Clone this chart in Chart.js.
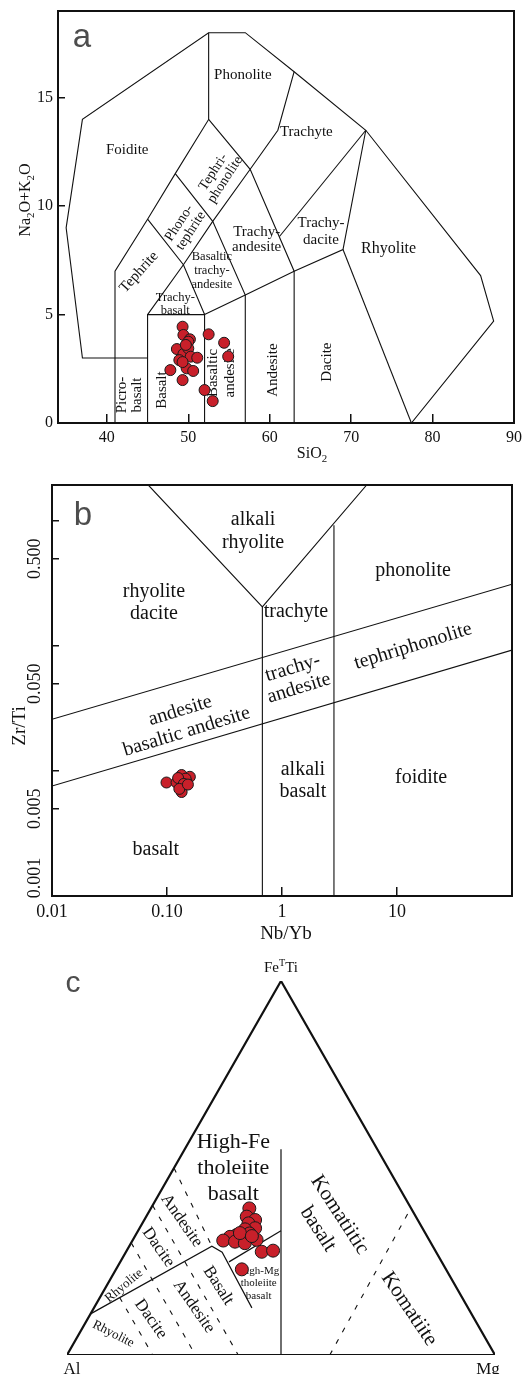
<!DOCTYPE html>
<html>
<head>
<meta charset="utf-8">
<script src="https://cdn.jsdelivr.net/npm/chart.js@4.4.1/dist/chart.umd.min.js"></script>
<style>
  html, body { margin: 0; padding: 0; background: #fff; }
  body { width: 530px; height: 1374px; position: relative; overflow: hidden; }
  .panel { position: absolute; left: 0; width: 530px; }
</style>
</head>
<body>
<div class="panel" style="top:0;height:470px"><canvas id="tas"></canvas></div>
<div class="panel" style="top:470px;height:480px"><canvas id="wf"></canvas></div>
<div class="panel" style="top:950px;height:424px"><canvas id="jensen"></canvas></div>
<script>
const SERIF = '"Liberation Serif", "Times New Roman", serif';
const SANS = '"Liberation Sans", Arial, sans-serif';
const INK = '#111';
const RED = '#c8202a';

// ---- a: total alkali vs silica ----
const tasSiO2 = [49.3, 49.4, 50.2, 50.0, 52.5, 54.4, 48.6, 49.4, 50.0, 50.3, 51.1, 54.9, 47.8, 49.8, 50.6, 49.3, 52.0, 53.0, 48.9, 49.3, 49.7];
const tasAlkali = [4.44, 4.06, 3.86, 3.75, 4.09, 3.70, 3.41, 3.18, 3.44, 3.06, 3.01, 3.07, 2.44, 2.52, 2.40, 1.98, 1.52, 1.01, 2.90, 2.81, 3.60];
const tasXTicks = [40, 50, 60, 70, 80, 90];
const tasYTicks = [0, 5, 10, 15];
const tasBounds = [
  [[45, 3], [37, 3], [35, 9], [37, 14], [52.5, 18], [57, 18], [63, 16.2], [71.8, 13.5], [85.9, 6.8], [87.5, 4.7], [77.4, 0]],
  [[41, 0], [41, 7], [45, 9.4], [48.4, 11.5], [52.5, 14], [52.5, 18]],
  [[45, 0], [45, 5], [52, 5], [52, 0]],
  [[45, 5], [49.4, 7.3], [53, 9.3], [57.6, 11.7], [61, 13.5], [63, 16.2]],
  [[45, 9.4], [49.4, 7.3], [52, 5], [57, 5.9], [63, 7], [69, 8], [71.8, 13.5]],
  [[48.4, 11.5], [53, 9.3], [57, 5.9], [57, 0]],
  [[52.5, 14], [57.6, 11.7], [63, 7], [63, 0]],
  [[69, 8], [77.4, 0]],
  [[61.2, 8.6], [71.8, 13.5]]
];
const tasNames = [
  { x: 42.5, y: 12.6, t: ['Foidite'], s: 15 },
  { x: 56.7, y: 16.05, t: ['Phonolite'], s: 15 },
  { x: 64.5, y: 13.4, t: ['Trachyte'], s: 15 },
  { x: 53.8, y: 11.4, t: ['Tephri-', 'phonolite'], s: 14, r: -57, lh: 14 },
  { x: 49.6, y: 9.04, t: ['Phono-', 'tephrite'], s: 14, r: -57, lh: 14 },
  { x: 43.95, y: 6.96, t: ['Tephrite'], s: 15, r: -48 },
  { x: 52.9, y: 7.0, t: ['Basaltic', 'trachy-', 'andesite'], s: 12.5, lh: 14 },
  { x: 48.4, y: 5.5, t: ['Trachy-', 'basalt'], s: 12.5, lh: 13 },
  { x: 58.4, y: 8.46, t: ['Trachy-', 'andesite'], s: 15, lh: 15 },
  { x: 66.3, y: 8.85, t: ['Trachy-', 'dacite'], s: 15, lh: 17 },
  { x: 74.6, y: 8.02, t: ['Rhyolite'], s: 16 },
  { x: 42.8, y: 1.29, t: ['Picro-', 'basalt'], s: 15, r: -90, lh: 15 },
  { x: 46.8, y: 1.52, t: ['Basalt'], s: 15, r: -90 },
  { x: 54.1, y: 2.31, t: ['Basaltic', 'andesite'], s: 15, r: -90, lh: 17 },
  { x: 60.4, y: 2.44, t: ['Andesite'], s: 15, r: -90 },
  { x: 67.0, y: 2.81, t: ['Dacite'], s: 15, r: -90 }
];

// ---- b: Zr/Ti vs Nb/Yb ----
const wfNbYb = [0.134, 0.158, 0.099, 0.121, 0.137, 0.134, 0.148, 0.145, 0.125, 0.140, 0.128, 0.152];
const wfZrTi = [0.0093, 0.0090, 0.0081, 0.0081, 0.0075, 0.0068, 0.0082, 0.0087, 0.0088, 0.0079, 0.0072, 0.0078];
const wfXTicks = [0.01, 0.1, 1, 10, 100];
const wfXLabels = ['0.01', '0.10', '1', '10', ''];
const wfYTicks = [0.001, 0.005, 0.01, 0.05, 0.1, 0.5, 1];
const wfYLabels = ['0.001', '0.005', '', '0.050', '', '0.500', ''];
const wfBounds = [
  [[0.0687, 1.95], [0.675, 0.206], [5.45, 1.95]],
  [[0.675, 0.206], [0.675, 0.001]],
  [[2.83, 0.93], [2.83, 0.001]],
  [[0.01, 0.026], [100, 0.313]],
  [[0.01, 0.0076], [100, 0.093]]
];
const wfNames = [
  { x: 0.56, y: 0.824, t: ['alkali', 'rhyolite'], s: 20, lh: 23 },
  { x: 0.077, y: 0.221, t: ['rhyolite', 'dacite'], s: 20, lh: 22 },
  { x: 13.8, y: 0.398, t: ['phonolite'], s: 20 },
  { x: 1.32, y: 0.19, t: ['trachyte'], s: 20 },
  { x: 13.8, y: 0.1, t: ['tephriphonolite'], s: 20, r: -17 },
  { x: 1.32, y: 0.0555, t: ['trachy-', 'andesite'], s: 20, r: -17, lh: 21 },
  { x: 0.139, y: 0.0251, t: ['andesite', 'basaltic andesite'], s: 20, r: -17, lh: 22 },
  { x: 1.52, y: 0.0083, t: ['alkali', 'basalt'], s: 20, lh: 22 },
  { x: 16.2, y: 0.0088, t: ['foidite'], s: 20 },
  { x: 0.080, y: 0.00233, t: ['basalt'], s: 20 }
];

// ---- c: Jensen cation plot, cation % (Al, Fe+Ti, Mg) ----
const jAl   = [37.8, 39.5, 38.0, 40.0, 39.1, 41.6, 44.3, 46.1, 48.2, 45.6, 43.5, 40.3, 40.7, 37.9, 47.7, 41.1, 43.3, 40.9];
const jFeTi = [39.2, 37.0, 36.1, 35.2, 33.9, 33.6, 32.1, 31.6, 30.6, 30.3, 29.9, 30.8, 27.6, 27.9, 22.9, 32.5, 32.6, 31.8];
const jMg   = [23.0, 23.5, 25.9, 24.8, 27.0, 24.8, 23.6, 22.3, 21.2, 24.1, 26.6, 28.9, 31.7, 34.2, 29.4, 26.4, 24.1, 27.3];
const jTriangle = [[100, 0, 0], [0, 100, 0], [0, 0, 100], [100, 0, 0]];
const jSolid = [
  [[89, 11, 0], [51.6, 29.1, 19.3], [50, 27.5, 22.5], [50.5, 12.6, 36.9]],
  [[49.7, 24.9, 25.4], [33.4, 33.2, 33.4]],
  [[22.5, 55, 22.5], [50, 0, 50]]
];
const jDashed = [
  [[50, 50, 0], [51.6, 29.1, 19.3]],
  [[60, 40, 0], [60, 0, 40]],
  [[70, 30, 0], [70, 0, 30]],
  [[80, 15.4, 4.6], [80, 0, 20]],
  [[38.6, 0, 61.4], [0, 39.3, 60.7]]
];
const jNames = [
  { x: 0.3886, y: 0.4992, t: ['High-Fe', 'tholeiite', 'basalt'], s: 22, lh: 25.7 },
  { x: 0.6116, y: 0.3556, t: ['Komatiitic', 'basalt'], s: 21, r: 57, lh: 26 },
  { x: 0.799, y: 0.123, t: ['Komatiite'], s: 21, r: 56 },
  { x: 0.268, y: 0.359, t: ['Andesite'], s: 17, r: 55 },
  { x: 0.2133, y: 0.288, t: ['Dacite'], s: 17, r: 55 },
  { x: 0.1332, y: 0.1853, t: ['Rhyolite'], s: 13, r: -40 },
  { x: 0.1082, y: 0.0561, t: ['Rhyolite'], s: 13, r: 27 },
  { x: 0.1956, y: 0.0963, t: ['Dacite'], s: 17, r: 55 },
  { x: 0.2967, y: 0.1291, t: ['Andesite'], s: 17, r: 55 },
  { x: 0.3535, y: 0.1853, t: ['Basalt'], s: 17, r: 57 },
  { x: 0.4479, y: 0.1912, t: ['High-Mg', 'tholeiite', 'basalt'], s: 11, lh: 12.5 }
];

// ternary (Al, FeTi, Mg) -> plot plane, Al bottom-left, Mg bottom-right, FeTi apex
function tern(p) {
  const s = p[0] + p[1] + p[2];
  return { x: (p[2] + p[1] / 2) / s, y: p[1] / s };
}

function lineSet(data, extra) {
  return Object.assign({
    data: data,
    showLine: true,
    pointRadius: 0,
    pointHoverRadius: 0,
    borderColor: INK,
    borderWidth: 1.1,
    fill: false,
    order: 2
  }, extra || {});
}

function sampleSet(data, r) {
  return {
    data: data,
    pointRadius: r,
    pointHoverRadius: r,
    backgroundColor: RED,
    borderColor: '#1a1a1a',
    borderWidth: 1,
    order: 1
  };
}

function drawBlock(ctx, x, y, lines, size, rot, lh) {
  ctx.save();
  ctx.translate(x, y);
  ctx.rotate((rot || 0) * Math.PI / 180);
  ctx.font = size + 'px ' + SERIF;
  ctx.fillStyle = INK;
  ctx.textAlign = 'center';
  ctx.textBaseline = 'middle';
  const n = lines.length;
  const step = lh || size * 1.1;
  lines.forEach((t, i) => ctx.fillText(t, 0, (i - (n - 1) / 2) * step));
  ctx.restore();
}

// parts: [text, shift] with shift 1 = subscript, -1 = superscript
function drawRich(ctx, parts, x, y, size, rot) {
  ctx.save();
  ctx.translate(x, y);
  ctx.rotate((rot || 0) * Math.PI / 180);
  ctx.fillStyle = INK;
  ctx.textAlign = 'left';
  ctx.textBaseline = 'alphabetic';
  const small = size * 0.68;
  const widths = parts.map(([t, s]) => {
    ctx.font = (s ? small : size) + 'px ' + SERIF;
    return ctx.measureText(t).width;
  });
  let cx = -widths.reduce((a, b) => a + b, 0) / 2;
  parts.forEach(([t, s], i) => {
    ctx.font = (s ? small : size) + 'px ' + SERIF;
    const dy = s === 1 ? size * 0.22 : s === -1 ? -size * 0.4 : 0;
    ctx.fillText(t, cx, size * 0.33 + dy);
    cx += widths[i];
  });
  ctx.restore();
}

function panelLetter(ctx, ch, x, y, size) {
  ctx.save();
  ctx.font = size + 'px ' + SANS;
  ctx.fillStyle = '#4d4d4d';
  ctx.textAlign = 'center';
  ctx.textBaseline = 'alphabetic';
  ctx.fillText(ch, x, y);
  ctx.restore();
}

function namesPlugin(id, names) {
  return {
    id: id,
    beforeDatasetsDraw(chart) {
      const { ctx, scales } = chart;
      names.forEach(n => {
        drawBlock(ctx, scales.x.getPixelForValue(n.x), scales.y.getPixelForValue(n.y), n.t, n.s, n.r, n.lh);
      });
    }
  };
}

const framePlugin = {
  id: 'frame',
  afterDatasetsDraw(chart) {
    const { ctx, chartArea: a } = chart;
    ctx.save();
    ctx.strokeStyle = INK;
    ctx.lineWidth = 2;
    ctx.strokeRect(a.left, a.top, a.right - a.left, a.bottom - a.top);
    ctx.restore();
  }
};

const baseOptions = {
  responsive: true,
  maintainAspectRatio: false,
  animation: false,
  events: [],
  plugins: { legend: { display: false }, tooltip: { enabled: false } }
};

function innerTicks(len) {
  return { drawOnChartArea: false, drawTicks: true, tickLength: -len, color: INK, lineWidth: 1.5 };
}

// ---------- chart a ----------
new Chart(document.getElementById('tas'), {
  type: 'scatter',
  data: {
    datasets: [
      sampleSet(tasSiO2.map((v, i) => ({ x: v, y: tasAlkali[i] })), 5.5),
      ...tasBounds.map(b => lineSet(b.map(p => ({ x: p[0], y: p[1] }))))
    ]
  },
  options: Object.assign({}, baseOptions, {
    layout: { padding: { top: 11, right: 16, left: 0, bottom: 0 } },
    scales: {
      x: {
        type: 'linear', min: 34, max: 90,
        afterBuildTicks: s => { s.ticks = tasXTicks.map(v => ({ value: v })); },
        afterFit: s => { s.height = 47; s.paddingLeft = 0; s.paddingRight = 0; },
        grid: innerTicks(9),
        border: { display: false },
        ticks: { color: INK, font: { family: SERIF, size: 16 }, padding: 14, maxRotation: 0, autoSkip: false }
      },
      y: {
        type: 'linear', min: 0, max: 19,
        afterBuildTicks: s => { s.ticks = tasYTicks.map(v => ({ value: v })); },
        afterFit: s => { s.width = 58; s.paddingTop = 0; s.paddingBottom = 0; },
        grid: innerTicks(7),
        border: { display: false },
        ticks: { color: INK, font: { family: SERIF, size: 16 }, padding: 12, autoSkip: false }
      }
    }
  }),
  plugins: [namesPlugin('tasNames', tasNames), framePlugin, {
    id: 'tasText',
    afterDraw(chart) {
      const ctx = chart.ctx;
      drawRich(ctx, [['SiO', 0], ['2', 1]], 312, 453, 16, 0);
      drawRich(ctx, [['Na', 0], ['2', 1], ['O+K', 0], ['2', 1], ['O', 0]], 25, 200, 16, -90);
      panelLetter(ctx, 'a', 82, 47, 33);
    }
  }]
});

// ---------- chart b ----------
new Chart(document.getElementById('wf'), {
  type: 'scatter',
  data: {
    datasets: [
      sampleSet(wfNbYb.map((v, i) => ({ x: v, y: wfZrTi[i] })), 5.5),
      ...wfBounds.map(b => lineSet(b.map(p => ({ x: p[0], y: p[1] }))))
    ]
  },
  options: Object.assign({}, baseOptions, {
    layout: { padding: { top: 15, right: 18, left: 0, bottom: 0 } },
    scales: {
      x: {
        type: 'logarithmic', min: 0.01, max: 100,
        afterBuildTicks: s => { s.ticks = wfXTicks.map(v => ({ value: v })); },
        afterFit: s => { s.height = 54; s.paddingLeft = 0; s.paddingRight = 0; },
        grid: innerTicks(9),
        border: { display: false },
        ticks: {
          color: INK, font: { family: SERIF, size: 18 }, padding: 14, maxRotation: 0, autoSkip: false,
          callback: (v, i) => wfXLabels[i]
        }
      },
      y: {
        type: 'logarithmic', min: 0.001, max: 1.95,
        afterBuildTicks: s => { s.ticks = wfYTicks.map(v => ({ value: v })); },
        afterFit: s => { s.width = 52; s.paddingTop = 0; s.paddingBottom = 0; },
        grid: innerTicks(7),
        border: { display: false },
        ticks: { display: false }
      }
    }
  }),
  plugins: [namesPlugin('wfNames', wfNames), framePlugin, {
    id: 'wfText',
    afterDraw(chart) {
      const { ctx, scales } = chart;
      wfYTicks.forEach((v, i) => {
        if (!wfYLabels[i]) return;
        // the lowest label is lifted clear of the x labels
        const lift = i === 0 ? -18 : 0;
        drawBlock(ctx, 35, scales.y.getPixelForValue(v) + lift, [wfYLabels[i]], 18, -90);
      });
      drawBlock(ctx, 286, 464, ['Nb/Yb'], 19, 0);
      drawBlock(ctx, 20, 256, ['Zr/Ti'], 19, -90);
      panelLetter(ctx, 'b', 83, 55, 33);
    }
  }]
});

// ---------- chart c ----------
new Chart(document.getElementById('jensen'), {
  type: 'scatter',
  data: {
    datasets: [
      sampleSet(jAl.map((v, i) => tern([v, jFeTi[i], jMg[i]])), 6.5),
      lineSet(jTriangle.map(tern), { borderWidth: 2.2 }),
      ...jSolid.map(b => lineSet(b.map(tern), { borderWidth: 1.2 })),
      ...jDashed.map(b => lineSet(b.map(tern), { borderWidth: 1.1, borderDash: [5, 8] }))
    ]
  },
  options: Object.assign({}, baseOptions, {
    layout: { padding: { top: 31, right: 35, left: 67, bottom: 19 } },
    scales: {
      x: { type: 'linear', min: 0, max: 1, display: false },
      y: { type: 'linear', min: 0, max: 1, display: false }
    }
  }),
  plugins: [namesPlugin('jNames', jNames), {
    id: 'jText',
    afterDraw(chart) {
      const { ctx, scales } = chart;
      const top = tern([0, 100, 0]);
      drawRich(ctx, [['Fe', 0], ['T', -1], ['Ti', 0]], scales.x.getPixelForValue(top.x), 17, 15, 0);
      drawBlock(ctx, 72, 420, ['Al'], 17, 0);
      drawBlock(ctx, 488, 420, ['Mg'], 17, 0);
      panelLetter(ctx, 'c', 73, 42, 30);
    }
  }]
});
</script>
</body>
</html>
